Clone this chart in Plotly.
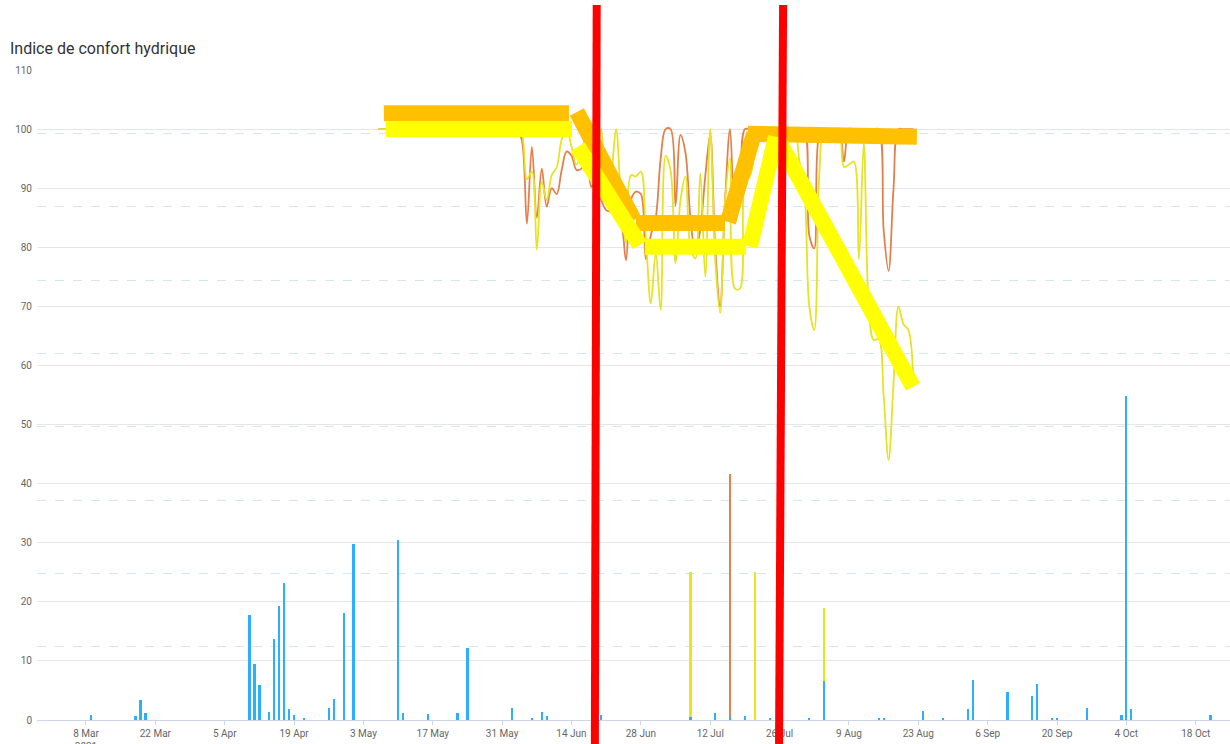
import pandas as pd
import plotly.graph_objects as go

# ---------------- data ----------------
line_dates = pd.date_range("2021-05-06", "2021-08-22", freq="D")

orange_values = (
    [100] * 29 +
    [98, 84, 97, 85, 93.3, 86.9, 90, 89, 93, 96.2, 95.5, 93.1, 93.3, 95.3, 90.2, 92,
     88, 86.3, 86, 85, 84, 77.8, 88, 89.4, 89, 78, 82, 85, 95, 100, 100, 87, 99, 96,
     85, 79, 83, 92, 99, 80, 70, 88, 100, 84, 90, 100] +
    [100] * 12 +
    [82, 79.8, 99] +
    [100] * 4 +
    [94.5] +
    [100] * 7 +
    [83, 76, 90] +
    [100] * 4
)

yellow_values = (
    [100] * 29 +
    [99, 91.5, 92.8, 79.6, 91, 88, 92.2, 93.5, 98.2, 100, 97, 94, 96, 99, 93, 95,
     100, 88, 92, 100, 88, 80.7, 92.2, 92, 92.8, 82, 70.5, 79, 69.4, 95.5, 93, 77.3,
     88, 92, 80, 78.1, 92.5, 75, 100, 78, 68.9, 88, 95.1, 73, 73, 91, 92, 96] +
    [100] * 8 +
    [94.5, 90, 70, 66, 92] +
    [100] * 4 +
    [93.6, 94, 94.5, 78, 97.6, 70, 64.3, 64.5, 55, 44, 57, 70, 67, 66, 57]
)

rain_dates = ["2021-03-09", "2021-03-18", "2021-03-19", "2021-03-20", "2021-04-10",
              "2021-04-11", "2021-04-12", "2021-04-14", "2021-04-15", "2021-04-16",
              "2021-04-17", "2021-04-18", "2021-04-19", "2021-04-21", "2021-04-26",
              "2021-04-27", "2021-04-29", "2021-05-01", "2021-05-10", "2021-05-11",
              "2021-05-16", "2021-05-22", "2021-05-24", "2021-06-02", "2021-06-06",
              "2021-06-08", "2021-06-09", "2021-06-20", "2021-07-08", "2021-07-13",
              "2021-07-16", "2021-07-19", "2021-07-24", "2021-08-01", "2021-08-04",
              "2021-08-15", "2021-08-16", "2021-08-24", "2021-08-28", "2021-09-02",
              "2021-09-03", "2021-09-10", "2021-09-15", "2021-09-16", "2021-09-19",
              "2021-09-20", "2021-09-26", "2021-10-03", "2021-10-04", "2021-10-05",
              "2021-10-21"]
rain_values = [0.8, 0.6, 3.4, 1.2, 17.8, 9.5, 6.0, 1.4, 13.7, 19.3, 23.2, 1.9, 0.8, 0.3,
               2.0, 3.6, 18.1, 29.8, 30.5, 1.2, 1.0, 1.2, 12.2, 2.0, 0.3, 1.4, 0.7, 0.8,
               0.5, 1.2, 0.5, 0.7, 0.2, 0.4, 6.6, 0.3, 0.3, 1.5, 0.3, 1.9, 6.8, 4.8, 4.1,
               6.1, 0.4, 0.3, 2.1, 0.8, 54.9, 1.9, 0.8]

yellow_irr_dates = ["2021-07-08", "2021-07-21", "2021-08-04"]
yellow_irr_values = [25, 25, 19]
orange_irr_dates = ["2021-07-16"]
orange_irr_values = [41.7]

# hand-drawn annotation strokes (start date, start value, end date, end value)
orange_marks = [
    ("2021-05-07 03:00", 102.7, "2021-06-13 11:30", 102.7),
    ("2021-06-15 02:00", 102.9, "2021-06-26 14:00", 84.6),
    ("2021-06-27 00:00", 84.1, "2021-07-14 23:00", 84.1),
    ("2021-07-15 14:00", 84.3, "2021-07-20 20:00", 99.2),
    ("2021-07-19 14:00", 99.2, "2021-08-22 17:00", 98.7),
]
yellow_marks = [
    ("2021-05-07 12:00", 100.0, "2021-06-14 02:00", 100.0),
    ("2021-06-15 07:00", 97.0, "2021-06-27 19:00", 80.4),
    ("2021-06-28 19:00", 80.1, "2021-07-19 05:00", 80.1),
    ("2021-07-20 00:00", 80.1, "2021-07-25 06:00", 98.7),
    ("2021-07-25 17:00", 98.2, "2021-08-21 22:00", 56.4),
]
red_marks = [("2021-06-19 02:00", "2021-06-18 17:00"),
             ("2021-07-26 17:00", "2021-07-25 21:00")]

tick_dates = pd.date_range("2021-03-08", "2021-10-18", freq="14D")
tick_labels = [d.strftime("%-d %b") for d in tick_dates]
tick_labels[0] = tick_labels[0] + "<br>2021"

title_text = "Indice de confort hydrique"

# ---------------- figure ----------------
def segs(marks):
    xs, ys = [], []
    for x0, y0, x1, y1 in marks:
        xs += [x0, x1, None]
        ys += [y0, y1, None]
    return xs, ys

fig = go.Figure()
fig.add_trace(go.Scatter(x=[], y=[], yaxis="y2", showlegend=False))

fig.add_trace(go.Bar(x=yellow_irr_dates, y=yellow_irr_values, marker_color="#E6E61E",
                     marker_line_width=0, width=0.45 * 86400000))
fig.add_trace(go.Bar(x=orange_irr_dates, y=orange_irr_values, marker_color="#E0814A",
                     marker_line_width=0, width=0.45 * 86400000))
fig.add_trace(go.Bar(x=rain_dates, y=rain_values, marker_color="#2CAFFE",
                     marker_line_width=0, width=0.45 * 86400000))

fig.add_trace(go.Scatter(x=line_dates, y=orange_values, mode="lines",
                         line=dict(color="#E3804D", width=1.8, shape="spline")))
fig.add_trace(go.Scatter(x=line_dates, y=yellow_values, mode="lines",
                         line=dict(color="#E4E422", width=1.8, shape="spline")))

ox, oy = segs(orange_marks)
fig.add_trace(go.Scatter(x=ox, y=oy, mode="lines", line=dict(color="#FFC000", width=16)))
yx, yy = segs(yellow_marks)
fig.add_trace(go.Scatter(x=yx, y=yy, mode="lines", line=dict(color="#FFFF00", width=16)))

for top, bottom in red_marks:
    fig.add_shape(type="line", xref="x", yref="paper", x0=bottom, x1=top,
                  y0=-0.06, y1=1.1, line=dict(color="#FF0000", width=8), layer="above")

fig.update_layout(
    width=1230, height=744,
    margin=dict(l=37, r=0, t=70, b=24),
    paper_bgcolor="white", plot_bgcolor="white",
    showlegend=False, barmode="overlay", bargap=0,
    font=dict(family="Roboto, sans-serif", color="#666666", size=10),
    title=dict(text=title_text, x=10 / 1230, xanchor="left", y=1 - 48 / 744,
               yanchor="middle", yref="container",
               font=dict(family="Roboto, sans-serif", size=16, color="#333333")),
    xaxis=dict(type="date", range=["2021-02-26 02:40", "2021-10-24 22:00"],
               tickvals=list(tick_dates), ticktext=tick_labels, automargin=False,
               showgrid=False, zeroline=False, showline=True, linecolor="#ccd6eb",
               linewidth=1, ticks="outside", ticklen=4, tickcolor="#ccd6eb",
               tickfont=dict(size=10, color="#666666")),
    yaxis=dict(range=[0, 110], dtick=10, showgrid=True, gridcolor="#e6e6e6",
               gridwidth=1, zeroline=False, showline=False, automargin=False,
               ticklabelstandoff=4,
               tickfont=dict(size=10, color="#666666")),
    yaxis2=dict(overlaying="y", side="right", range=[0, 88.68], dtick=10,
                showticklabels=False, showgrid=True, gridcolor="#cfe8f6",
                griddash="dash", zeroline=False, showline=False, ticks="",
                automargin=False),
)

fig.write_html("out.html", config={"displayModeBar": False},
               post_script="document.body.style.margin='0px';")
